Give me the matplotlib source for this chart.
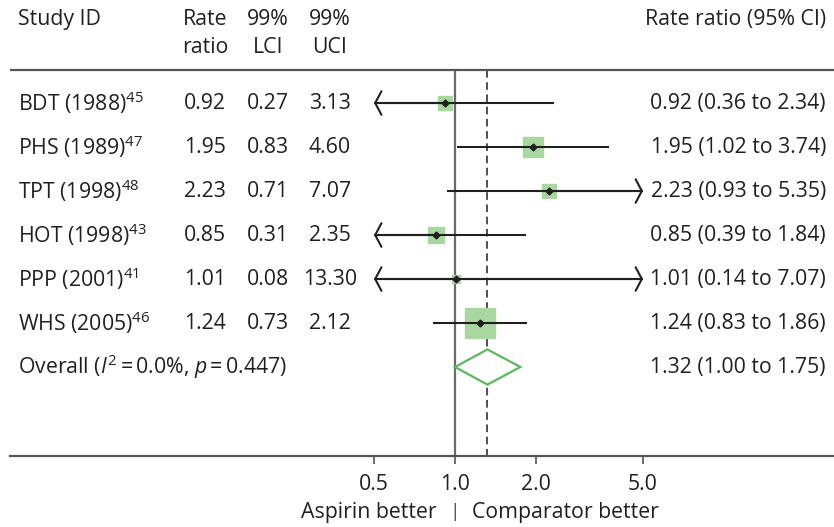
import numpy as np
import matplotlib
matplotlib.use("Agg")
import matplotlib.pyplot as plt
from matplotlib.transforms import blended_transform_factory

# Datos del forest plot
estudios = ["BDT (1988)", "PHS (1989)", "TPT (1998)", "HOT (1998)", "PPP (2001)", "WHS (2005)"]
referencias = ["45", "47", "48", "43", "41", "46"]
rate_ratio = [0.92, 1.95, 2.23, 0.85, 1.01, 1.24]
lci_99 = ["0.27", "0.83", "0.71", "0.31", "0.08", "0.73"]
uci_99 = ["3.13", "4.60", "7.07", "2.35", "13.30", "2.12"]
lo_95 = [0.36, 1.02, 0.93, 0.39, 0.14, 0.83]
hi_95 = [2.34, 3.74, 5.35, 1.84, 7.07, 1.86]
pesos = [9.5, 19.3, 10.8, 13.9, 3.1, 43.4]  # peso (%) -> area del cuadrado

overall_rr = 1.32
overall_lo = 1.00
overall_hi = 1.75
overall_label = "Overall ($I^2$\u2009=\u20090.0%, $p$\u2009=\u20090.447)"

ticks = [0.5, 1.0, 2.0, 5.0]
tick_labels = ["0.5", "1.0", "2.0", "5.0"]
eje_min, eje_max = 0.5, 5.0

# Estilo
plt.rcParams['font.family'] = ['Open Sans', 'DejaVu Sans']
plt.rcParams['mathtext.fontset'] = 'custom'
plt.rcParams['mathtext.rm'] = 'Open Sans'
plt.rcParams['mathtext.it'] = 'Open Sans:italic'
fs = 15.3
txt = '#231f20'
gris = '#555555'
verde = '#a8d8a0'
verde_borde = '#5cb85c'

fig = plt.figure(figsize=(8.34, 5.27), dpi=100)
# escala: 269 px por decada, x=1 en el pixel 455
px_dec = 269.0
x0 = 455.0
izq_px, der_px = 10.0, 834.0
ax = fig.add_axes([izq_px / 834, 0, (der_px - izq_px) / 834, 1])
ax.set_xscale('log')
ax.set_xlim(10 ** ((izq_px - x0) / px_dec), 10 ** ((der_px - x0) / px_dec))
ax.set_ylim(9.636, -2.341)

y_header_line = -0.75
y_bottom = 8.02
filas = np.arange(len(estudios))
y_overall = len(estudios)

# lineas horizontales
ax.axhline(y_header_line, color=gris, lw=1.6)
for s in ['top', 'right', 'left']:
    ax.spines[s].set_visible(False)
ax.spines['bottom'].set_position(('data', y_bottom))
ax.spines['bottom'].set_color(gris)
ax.spines['bottom'].set_linewidth(1.6)
ax.set_yticks([])
ax.xaxis.set_minor_locator(matplotlib.ticker.NullLocator())
ax.set_xticks(ticks)
ax.set_xticklabels(tick_labels)
ax.tick_params(axis='x', direction='out', length=6, width=1.2, color=gris,
               labelsize=fs, labelcolor=txt, pad=7)

# linea de no efecto y linea del overall
ax.vlines(1.0, y_header_line, y_bottom, color='#6b6b6b', lw=1.6, zorder=1)
ax.vlines(overall_rr, y_header_line, y_bottom, color=txt, lw=1.1,
          linestyles=(0, (5, 3)), zorder=1)

# cuadrados, intervalos y flechas
lado_max = 30 * 0.72
flecha = dict(arrowstyle='->,head_length=0.45,head_width=0.85',
              color=txt, lw=1.5, shrinkA=0, shrinkB=0)
for i in filas:
    lado = lado_max * np.sqrt(pesos[i] / max(pesos))
    ax.plot(rate_ratio[i], i, marker='s', ms=lado, color=verde, mec=verde, zorder=2)
    lo = max(lo_95[i], eje_min)
    hi = min(hi_95[i], eje_max)
    ax.plot([lo, hi], [i, i], color=txt, lw=1.5, zorder=3, solid_capstyle='butt')
    if lo_95[i] < eje_min:
        ax.annotate('', xy=(eje_min, i), xytext=(rate_ratio[i], i),
                    arrowprops=flecha, zorder=3)
    if hi_95[i] > eje_max:
        ax.annotate('', xy=(eje_max, i), xytext=(rate_ratio[i], i),
                    arrowprops=flecha, zorder=3)
    ax.plot(rate_ratio[i], i, marker='D', ms=3.5, color=txt, zorder=4)

# diamante del overall
h = 0.4
ax.fill([overall_lo, overall_rr, overall_hi, overall_rr],
        [y_overall, y_overall - h, y_overall, y_overall + h],
        facecolor='white', edgecolor=verde_borde, lw=1.6, zorder=3)

# columnas de texto
tr = blended_transform_factory(fig.transFigure, ax.transData)
col_id = 18 / 834
col_rr = 205 / 834
col_lci = 268 / 834
col_uci = 330 / 834
col_der = 826 / 834
y_h1, y_h2 = -1.89, -1.27

def texto(x, y, s, ha='center'):
    ax.text(x, y, s, transform=tr, ha=ha, va='center', fontsize=fs, color=txt)

texto(col_id, y_h1, "Study ID", 'left')
texto(col_rr, y_h1, "Rate")
texto(col_rr, y_h2, "ratio")
texto(col_lci, y_h1, "99%")
texto(col_lci, y_h2, "LCI")
texto(col_uci, y_h1, "99%")
texto(col_uci, y_h2, "UCI")
texto(col_der, y_h1, "Rate ratio (95% CI)", 'right')

for i in filas:
    texto(col_id, i, f"{estudios[i]}$^{{{referencias[i]}}}$", 'left')
    texto(col_rr, i, f"{rate_ratio[i]:.2f}")
    texto(col_lci, i, lci_99[i])
    texto(col_uci, i, uci_99[i])
    texto(col_der, i, f"{rate_ratio[i]:.2f} ({lo_95[i]:.2f} to {hi_95[i]:.2f})", 'right')

texto(col_id, y_overall, overall_label, 'left')
texto(col_der, y_overall, f"{overall_rr:.2f} ({overall_lo:.2f} to {overall_hi:.2f})", 'right')

# etiquetas bajo el eje
y_etq = 9.3
ax.text(0.857, y_etq, "Aspirin better", ha='right', va='center', fontsize=fs, color=txt)
ax.text(1.0, y_etq, "|", ha='center', va='center', fontsize=fs * 0.9, color='#444444')
ax.text(1.156, y_etq, "Comparator better", ha='left', va='center', fontsize=fs, color=txt)

fig.savefig("out.png", dpi=100)
